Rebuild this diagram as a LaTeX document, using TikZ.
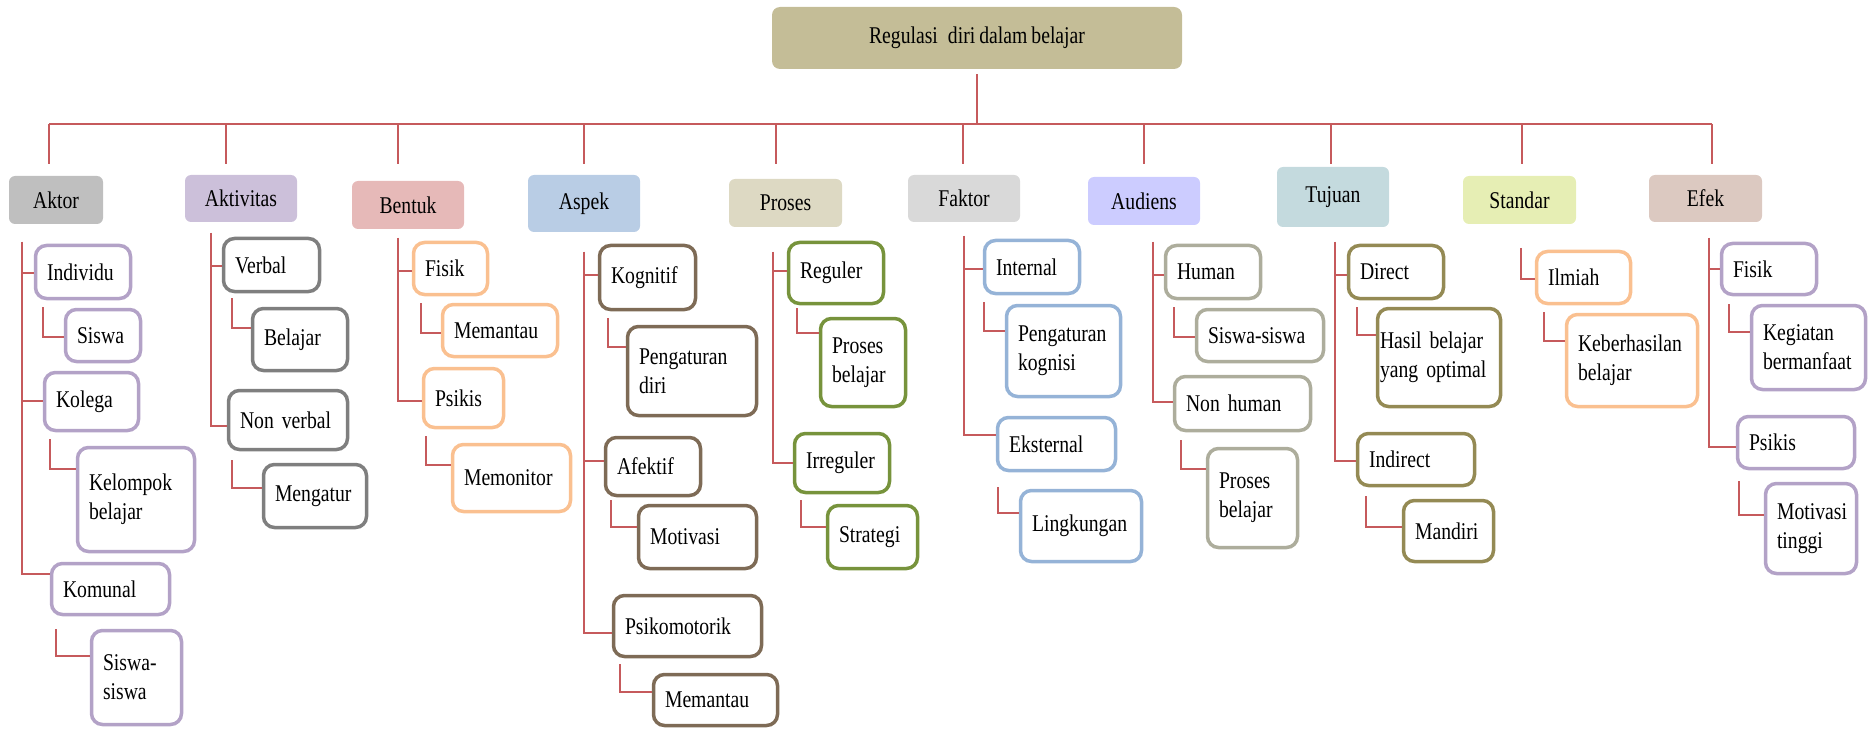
\documentclass[tikz,border=0pt]{standalone}
\usepackage{fontspec}
\setmainfont{Liberation Serif}[FakeStretch=0.82, WordSpace=0.82]
\definecolor{linkred}{HTML}{C65A5C}
\definecolor{cTitle}{HTML}{C4BD97}
\definecolor{cAktor}{HTML}{BFBFBF}
\definecolor{cAktivitas}{HTML}{CCC0DA}
\definecolor{cBentuk}{HTML}{E6B9B8}
\definecolor{cAspek}{HTML}{B9CDE5}
\definecolor{cProses}{HTML}{DDD9C3}
\definecolor{cFaktor}{HTML}{D9D9D9}
\definecolor{cAudiens}{HTML}{CCCCFF}
\definecolor{cTujuan}{HTML}{C4DADE}
\definecolor{cStandar}{HTML}{E6EEB4}
\definecolor{cEfek}{HTML}{DCC9C1}
\definecolor{bPurple}{HTML}{B3A2C7}
\definecolor{bGray}{HTML}{7F7F7F}
\definecolor{bOrange}{HTML}{FAC090}
\definecolor{bBrown}{HTML}{7E6B56}
\definecolor{bGreen}{HTML}{77933C}
\definecolor{bBlue}{HTML}{95B3D7}
\definecolor{bBeige}{HTML}{ADAD9C}
\definecolor{bOlive}{HTML}{948A54}
\begin{document}
\begin{tikzpicture}[x=1pt,y=-1pt,
  every node/.style={font=\fontsize{24}{29}\selectfont, text=black},
  link/.style={draw=linkred, line width=1.8pt},
  head/.style={rectangle, rounded corners=6pt, inner sep=0pt, align=center},
  leaf/.style 2 args={rectangle, rounded corners=11pt, line width=3.5pt, draw, fill=white,
    inner xsep=0pt, inner ysep=2pt, minimum width=#1-3, minimum height=#2-3,
    text width=#1-26, align=left,
    execute at begin node={\hyphenpenalty=10000\exhyphenpenalty=10000}},
]
\useasboundingbox (0,0) rectangle (1869,730);

% root
\node[head, fill=cTitle, rounded corners=8pt, minimum width=410, minimum height=62] (title) at (977,38) {Regulasi\hspace{6pt} diri dalam belajar};

% categories
\node[head, fill=cAktor,     minimum width=94,  minimum height=48] (aktor)     at (56,200)    {Aktor};
\node[head, fill=cAktivitas, minimum width=112, minimum height=47] (aktivitas) at (241,198.5) {Aktivitas};
\node[head, fill=cBentuk,    minimum width=112, minimum height=48] (bentuk)    at (408,205)   {Bentuk};
\node[head, fill=cAspek,     minimum width=112, minimum height=57] (aspek)     at (584,203.5) {Aspek};
\node[head, fill=cProses,    minimum width=113, minimum height=48] (proses)    at (785.5,203) {Proses};
\node[head, fill=cFaktor,    minimum width=112, minimum height=47] (faktor)    at (964,198.5) {Faktor};
\node[head, fill=cAudiens,   minimum width=112, minimum height=48] (audiens)   at (1144,201)  {Audiens};
\node[head, fill=cTujuan,    minimum width=112, minimum height=60] (tujuan)    at (1333,197)  {Tujuan};
\node[head, fill=cStandar,   minimum width=113, minimum height=48] (standar)   at (1519.5,200) {Standar};
\node[head, fill=cEfek,      minimum width=113, minimum height=47] (efek)      at (1705.5,198.5) {Efek};

% bus from the root to the categories
\coordinate (d1) at (49,124);
\coordinate (d2) at (226,124);
\coordinate (d3) at (398,124);
\coordinate (d4) at (584,124);
\coordinate (d5) at (776,124);
\coordinate (d6) at (963,124);
\coordinate (d7) at (1144,124);
\coordinate (d8) at (1331,124);
\coordinate (d9) at (1522,124);
\coordinate (d10) at (1712,124);
\draw[link, shorten <=5pt] (title.south) -- (title.south |- d1);
\draw[link] (d1) -- (d10);
\draw[link, shorten >=12pt] (d1) -- (aktor.north -| d1);
\draw[link, shorten >=11pt] (d2) -- (aktivitas.north -| d2);
\draw[link, shorten >=17pt] (d3) -- (bentuk.north -| d3);
\draw[link, shorten >=11pt] (d4) -- (aspek.north -| d4);
\draw[link, shorten >=15pt] (d5) -- (proses.north -| d5);
\draw[link, shorten >=11pt] (d6) -- (faktor.north -| d6);
\draw[link, shorten >=13pt] (d7) -- (audiens.north -| d7);
\draw[link, shorten >=3pt]  (d8) -- (tujuan.north -| d8);
\draw[link, shorten >=12pt] (d9) -- (standar.north -| d9);
\draw[link, shorten >=11pt] (d10) -- (efek.north -| d10);

% Aktor
\node[leaf={98}{56},   draw=bPurple] (ind)  at (83,272)     {Individu};
\node[leaf={78}{55},   draw=bPurple] (sis)  at (103,335.5)  {Siswa};
\node[leaf={97}{61},   draw=bPurple] (kol)  at (91.5,401.5) {Kolega};
\node[leaf={120}{107}, draw=bPurple] (kel)  at (136,499.5)  {Kelompok\\belajar};
\node[leaf={121}{54},  draw=bPurple] (kom)  at (110.5,589)  {Komunal};
\node[leaf={93}{97},   draw=bPurple] (sis2) at (136.5,677.5) {Siswa-\\siswa};
\coordinate (tAktor) at (22,242);
\draw[link] (tAktor) |- (ind.west |- 0,273);
\draw[link] (tAktor) |- (kol.west |- 0,401);
\draw[link] (tAktor) |- (kom.west |- 0,574);
\draw[link] (ind.south west) ++(9,7)  |- (sis.west |- 0,337);
\draw[link] (kol.south west) ++(7,7)  |- (kel.west |- 0,469);
\draw[link] (kom.south west) ++(6,13) |- (sis2.west |- 0,656);

% Aktivitas
\node[leaf={99}{56},  draw=bGray] (ver)  at (271.5,265) {Verbal};
\node[leaf={98}{65},  draw=bGray] (bel)  at (300,339.5) {Belajar};
\node[leaf={122}{62}, draw=bGray] (nonv) at (288,420)   {Non verbal};
\node[leaf={106}{66}, draw=bGray] (meng) at (315,496)   {Mengatur};
\coordinate (tAktivitas) at (211,233);
\draw[link] (tAktivitas) |- (ver.west |- 0,266);
\draw[link] (tAktivitas) |- (nonv.west |- 0,426);
\draw[link] (ver.south west) ++(10,5) |- (bel.west |- 0,328);
\draw[link] (nonv.south west) ++(5,9) |- (meng.west |- 0,488);

% Bentuk
\node[leaf={77}{55},  draw=bOrange] (fis)  at (450.5,268.5) {Fisik};
\node[leaf={118}{55}, draw=bOrange] (mem)  at (500,330.5)   {Memantau};
\node[leaf={83}{62},  draw=bOrange] (psi)  at (463.5,398)   {Psikis};
\node[leaf={121}{70}, draw=bOrange] (memo) at (511.5,478)   {Memonitor};
\coordinate (tBentuk) at (398,238);
\draw[link] (tBentuk) |- (fis.west |- 0,271);
\draw[link] (tBentuk) |- (psi.west |- 0,401);
\draw[link] (fis.south west) ++(9,7) |- (mem.west |- 0,333);
\draw[link] (psi.south west) ++(4,7) |- (memo.west |- 0,465);

% Aspek
\node[leaf={99}{67},  draw=bBrown] (kog)  at (647.5,277.5) {Kognitif};
\node[leaf={132}{92}, draw=bBrown] (peng) at (692,371)     {Pengaturan\\diri};
\node[leaf={98}{61},  draw=bBrown] (afe)  at (653,466.5)   {Afektif};
\node[leaf={121}{66}, draw=bBrown] (mot)  at (697.5,537)   {Motivasi};
\node[leaf={151}{64}, draw=bBrown] (psm)  at (687.5,626)   {Psikomotorik};
\node[leaf={127}{54}, draw=bBrown] (mema) at (715.5,700)   {Memantau};
\coordinate (tAspek) at (584,252);
\draw[link] (tAspek) |- (kog.west |- 0,275);
\draw[link] (tAspek) |- (afe.west |- 0,461);
\draw[link] (tAspek) |- (psm.west |- 0,633);
\draw[link] (kog.south west) ++(10,7) |- (peng.west |- 0,347);
\draw[link] (afe.south west) ++(7,3)  |- (mot.west |- 0,527);
\draw[link] (psm.south west) ++(8,6)  |- (mema.west |- 0,692);

% Proses
\node[leaf={98}{64}, draw=bGreen] (reg) at (836,273)   {Reguler};
\node[leaf={88}{91}, draw=bGreen] (prb) at (863,362.5) {Proses\\belajar};
\node[leaf={98}{62}, draw=bGreen] (irr) at (842,463)   {Irreguler};
\node[leaf={93}{66}, draw=bGreen] (str) at (872.5,537) {Strategi};
\coordinate (tProses) at (773,252);
\draw[link] (tProses) |- (reg.west |- 0,271);
\draw[link] (tProses) |- (irr.west |- 0,463);
\draw[link] (reg.south west) ++(10,3) |- (prb.west |- 0,333);
\draw[link] (irr.south west) ++(8,6)  |- (str.west |- 0,527);

% Faktor
\node[leaf={98}{56},  draw=bBlue] (int) at (1032,267)   {Internal};
\node[leaf={117}{94}, draw=bBlue] (pkg) at (1063.5,351) {Pengaturan\\kognisi};
\node[leaf={121}{56}, draw=bBlue] (eks) at (1056.5,444) {Eksternal};
\node[leaf={124}{74}, draw=bBlue] (lin) at (1081,526)   {Lingkungan};
\coordinate (tFaktor) at (964,236);
\draw[link] (tFaktor) |- (int.west |- 0,269);
\draw[link] (tFaktor) |- (eks.west |- 0,435);
\draw[link] (int.south west) ++(1,7)  |- (pkg.west |- 0,331);
\draw[link] (eks.south west) ++(2,15) |- (lin.west |- 0,513);

% Audiens
\node[leaf={98}{56},  draw=bBeige] (hum)  at (1213,272)    {Human};
\node[leaf={130}{55}, draw=bBeige] (ss)   at (1260,335.5)  {Siswa-siswa};
\node[leaf={139}{57}, draw=bBeige] (nonh) at (1242.5,403.5) {Non human};
\node[leaf={93}{102}, draw=bBeige] (pba)  at (1252.5,498)  {Proses\\belajar};
\coordinate (tAudiens) at (1153,242);
\draw[link] (tAudiens) |- (hum.west |- 0,275);
\draw[link] (tAudiens) |- (nonh.west |- 0,402);
\draw[link] (hum.south west) ++(10,7) |- (ss.west |- 0,337);
\draw[link] (nonh.south west) ++(8,8) |- (pba.west |- 0,469);

% Tujuan
\node[leaf={98}{56},   draw=bOlive] (dir)  at (1396,272)   {Direct};
\node[leaf={126}{101}, draw=bOlive, text width=118] (has) at (1439,357.5) {Hasil belajar\\yang optimal};
\node[leaf={120}{55},  draw=bOlive] (ind2) at (1416,459.5) {Indirect};
\node[leaf={93}{64},   draw=bOlive] (man)  at (1448.5,531) {Mandiri};
\coordinate (tTujuan) at (1335,242);
\draw[link] (tTujuan) |- (dir.west |- 0,275);
\draw[link] (tTujuan) |- (ind2.west |- 0,461);
\draw[link] (dir.south west) ++(10,7)  |- (has.west |- 0,335);
\draw[link] (ind2.south west) ++(10,9) |- (man.west |- 0,527);

% Standar
\node[leaf={97}{55},  draw=bOrange] (ilm) at (1583.5,277.5) {Ilmiah};
\node[leaf={134}{95}, draw=bOrange] (keb) at (1632,360.5)   {Keberhasilan\\belajar};
\coordinate (tStandar) at (1521,248);
\draw[link] (tStandar) |- (ilm.west |- 0,279);
\draw[link] (ilm.south west) ++(9,7) |- (keb.west |- 0,341);

% Efek
\node[leaf={98}{54},  draw=bPurple] (fis2) at (1769,269)    {Fisik};
\node[leaf={117}{87}, draw=bPurple] (keg)  at (1808.5,347.5) {Kegiatan\\bermanfaat};
\node[leaf={120}{55}, draw=bPurple] (psi2) at (1796,442.5)  {Psikis};
\node[leaf={94}{93},  draw=bPurple] (mott) at (1811,528.5)  {Motivasi\\tinggi};
\coordinate (tEfek) at (1709,238);
\draw[link] (tEfek) |- (fis2.west |- 0,269);
\draw[link] (tEfek) |- (psi2.west |- 0,447);
\draw[link] (fis2.south west) ++(9,8)  |- (keg.west |- 0,332);
\draw[link] (psi2.south west) ++(3,11) |- (mott.west |- 0,515);
\end{tikzpicture}
\end{document}
